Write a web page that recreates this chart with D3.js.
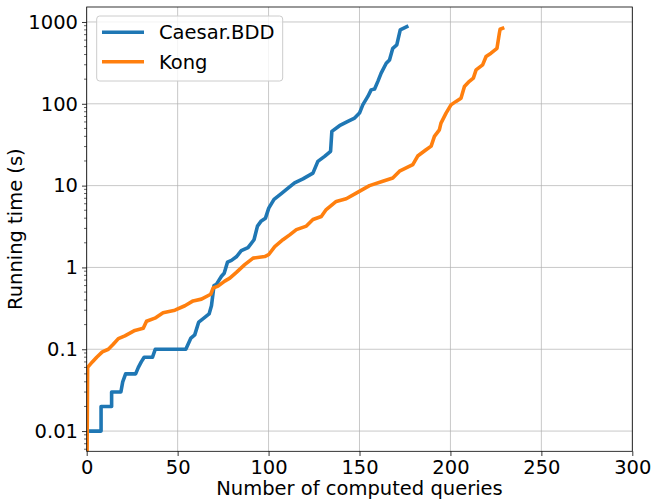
<!DOCTYPE html>
<html>
<head>
<meta charset="utf-8">
<script src="https://cdn.jsdelivr.net/npm/d3@7"></script>
<style>
  body { margin: 0; background: #fff; }
  text { font-family: "DejaVu Sans", sans-serif; fill: #000; }
</style>
</head>
<body>
<svg id="chart" width="653" height="499"></svg>
<script>
// series: [queries, seconds]
const caesarX = [1.6, 7.9, 7.9, 13.7, 13.7, 18.8, 19.8, 21.4, 26.9, 28.4, 30, 31.6, 36.2, 37.7, 54.5, 57.3, 59.4, 61.6, 64.4, 67.3, 68.6, 70, 71.3, 74.1, 75.6, 77.4, 79.6, 82.3, 85, 88.7, 92, 93.9, 96, 98.3, 100.1, 103, 107, 110.7, 114.3, 118.9, 124.4, 127.1, 130.8, 134.1, 134.8, 139, 143.6, 147.3, 150, 151.8, 154.6, 156.4, 158.3, 160.1, 161.9, 164.7, 166.5, 168.3, 170.5, 172.4, 176];
const caesarY = [0.01, 0.01, 0.02, 0.02, 0.03, 0.03, 0.04, 0.05, 0.05, 0.06, 0.07, 0.08, 0.08, 0.1, 0.1, 0.137, 0.15, 0.215, 0.24, 0.27, 0.34, 0.6, 0.62, 0.78, 0.85, 1.16, 1.22, 1.35, 1.6, 1.75, 2.18, 3.2, 3.7, 4.0, 5.3, 6.8, 8.0, 9.3, 10.8, 12.1, 14.2, 19.8, 22.8, 26.3, 46, 54, 61, 67, 77, 97, 123, 148, 152, 188, 237, 313, 344, 477, 524, 800, 876];

const kongX = [0, 0.5, 3.1, 5.5, 8.6, 11.9, 14.6, 17.4, 21, 26.5, 31.1, 32.9, 37.5, 42, 48.5, 54, 58.5, 63.1, 68.2, 69.5, 72.2, 75.9, 78.7, 82.3, 86.9, 91.5, 97.9, 100, 103.4, 107.9, 111.6, 115.3, 120.8, 124.4, 129, 131.7, 137.2, 142.7, 148.2, 155.5, 162.8, 168.3, 172, 179.3, 182, 186.6, 189.4, 191.2, 193.9, 194.8, 197.6, 200.3, 203.1, 205.8, 207.7, 210.4, 212.6, 214.1, 217.7, 219.6, 222.3, 225.6, 226.9, 227.3, 228.7];
const kongY = [0.001, 0.06, 0.07, 0.08, 0.093, 0.1, 0.115, 0.135, 0.146, 0.17, 0.18, 0.22, 0.24, 0.28, 0.3, 0.34, 0.39, 0.41, 0.47, 0.56, 0.59, 0.68, 0.74, 0.87, 1.08, 1.3, 1.36, 1.43, 1.8, 2.18, 2.5, 2.9, 3.2, 3.85, 4.2, 5.1, 6.4, 6.9, 8.1, 10, 11.3, 12.4, 15, 18, 23, 27.4, 30.4, 40, 48, 58, 77, 97, 107, 117, 163, 188, 206, 260, 299, 378, 415, 477, 728, 814, 838];

const seriesNames = ["Caesar.BDD", "Kong"];
const seriesColors = ["#1f77b4", "#ff7f0e"];
const xTicks = [0, 50, 100, 150, 200, 250, 300];
const yTicks = [0.01, 0.1, 1, 10, 100, 1000];
const yTickLabels = ["0.01", "0.1", "1", "10", "100", "1000"];

const margin = {top: 7, right: 20.7, bottom: 47.7, left: 86.7};
const W = 653, H = 499;
const iw = W - margin.left - margin.right, ih = H - margin.top - margin.bottom;
const fs = "19.5px";

const svg = d3.select("#chart");
const g = svg.append("g").attr("transform", `translate(${margin.left},${margin.top})`);

const x = d3.scaleLinear().domain([0, 300]).range([0, iw]);
const y = d3.scaleLog().domain([0.00566, 1524]).range([ih, 0]);

svg.append("defs").append("clipPath").attr("id", "clip")
  .append("rect").attr("width", iw).attr("height", ih);

// grid
g.append("g").selectAll("line").data(xTicks).enter().append("line")
  .attr("x1", d => x(d)).attr("x2", d => x(d)).attr("y1", 0).attr("y2", ih)
  .attr("stroke", "#b0b0b0").attr("stroke-opacity", 0.7).attr("stroke-width", 1);
g.append("g").selectAll("line").data(yTicks).enter().append("line")
  .attr("y1", d => y(d)).attr("y2", d => y(d)).attr("x1", 0).attr("x2", iw)
  .attr("stroke", "#b0b0b0").attr("stroke-opacity", 0.7).attr("stroke-width", 1);

// lines
const line = d3.line().x(d => x(d[0])).y(d => y(d[1]));
const data = [d3.zip(caesarX, caesarY), d3.zip(kongX, kongY)];
g.append("g").attr("clip-path", "url(#clip)").selectAll("path").data(data).enter().append("path")
  .attr("d", line).attr("fill", "none")
  .attr("stroke", (d, i) => seriesColors[i]).attr("stroke-width", 3.6)
  .attr("stroke-linejoin", "round").attr("stroke-linecap", "square");

// axes
const xAxis = d3.axisBottom(x).tickValues(xTicks).tickSize(4.7).tickPadding(4);
const gx = g.append("g").attr("transform", `translate(0,${ih})`).call(xAxis);
const yAxis = d3.axisLeft(y).tickValues(yTicks).tickFormat((d, i) => yTickLabels[i]).tickSize(4.7).tickPadding(4);
const gy = g.append("g").call(yAxis);

// minor log ticks
const minor = [];
for (let e = -3; e <= 3; e++) for (let m = 2; m <= 9; m++) {
  const v = m * Math.pow(10, e);
  if (v > 0.00566 && v < 1524) minor.push(v);
}
gy.append("g").selectAll("line").data(minor).enter().append("line")
  .attr("x1", 0).attr("x2", -2.7).attr("y1", d => y(d)).attr("y2", d => y(d))
  .attr("stroke", "#000").attr("stroke-width", 0.6);

[gx, gy].forEach(a => {
  a.select(".domain").remove();
  a.selectAll("text").style("font-family", "DejaVu Sans").style("font-size", fs).attr("fill", "#000");
  a.selectAll(".tick line").attr("stroke", "#000").attr("stroke-width", 0.8);
});

// frame
g.append("rect").attr("width", iw).attr("height", ih).attr("fill", "none")
  .attr("stroke", "#000").attr("stroke-width", 0.8);

// axis labels
svg.append("text").attr("x", margin.left + iw / 2).attr("y", 494.5).attr("text-anchor", "middle")
  .style("font-size", fs).text("Number of computed queries");
svg.append("text").attr("transform", `translate(22,${margin.top + ih / 2}) rotate(-90)`)
  .attr("text-anchor", "middle").style("font-size", fs).text("Running time (s)");

// legend
const lg = svg.append("g").attr("transform", "translate(96.7,16)");
lg.append("rect").attr("width", 186).attr("height", 65).attr("rx", 3)
  .attr("fill", "#fff").attr("fill-opacity", 0.8).attr("stroke", "#cccccc").attr("stroke-width", 1);
seriesNames.forEach((n, i) => {
  const yy = 16.3 + i * 29.4;
  lg.append("line").attr("x1", 5.3).attr("x2", 47.3).attr("y1", yy).attr("y2", yy)
    .attr("stroke", seriesColors[i]).attr("stroke-width", 3.6);
  lg.append("text").attr("x", 62.3).attr("y", yy + 7).style("font-size", fs).text(n);
});
</script>
</body>
</html>
